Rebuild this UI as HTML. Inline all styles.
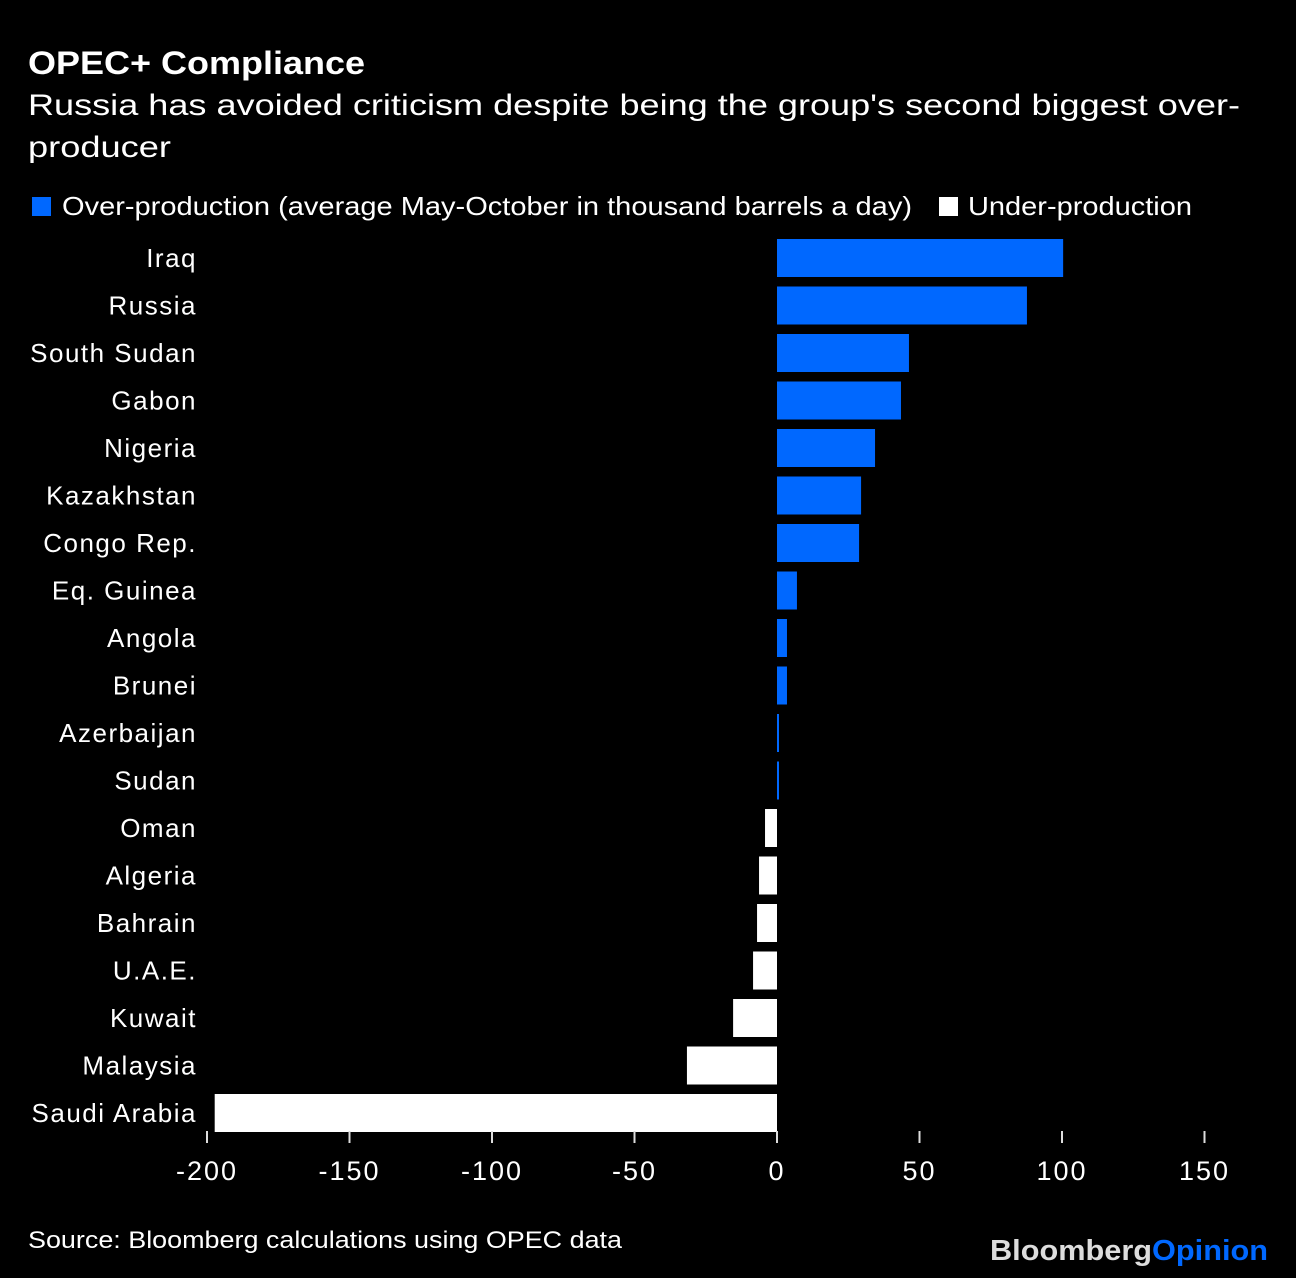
<!DOCTYPE html>
<html><head><meta charset="utf-8"><style>
body{margin:0;background:#000;width:1296px;height:1278px;overflow:hidden;font-family:"Liberation Sans",sans-serif;color:#fff}
</style></head><body>
<svg width="1296" height="1278" style="display:block">
<text x="28" y="74" font-size="32" font-weight="bold" fill="#fff" textLength="337" lengthAdjust="spacingAndGlyphs">OPEC+ Compliance</text>
<text x="28" y="115" font-size="30" fill="#fff" textLength="1212" lengthAdjust="spacingAndGlyphs">Russia has avoided criticism despite being the group's second biggest over-</text>
<text x="28" y="157" font-size="30" fill="#fff" textLength="143" lengthAdjust="spacingAndGlyphs">producer</text>
<g>
<rect x="32" y="197" width="19" height="19" fill="#0068ff"/>
<text x="62" y="215" font-size="26" fill="#fff" textLength="850" lengthAdjust="spacingAndGlyphs">Over-production (average May-October in thousand barrels a day)</text>
<rect x="939" y="197" width="19" height="19" fill="#fff"/>
<text x="968" y="215" font-size="26" fill="#fff" textLength="224" lengthAdjust="spacingAndGlyphs">Under-production</text>
</g>
<g id="plot"></g>
<text x="28" y="1248" font-size="24" fill="#fff" textLength="594" lengthAdjust="spacingAndGlyphs">Source: Bloomberg calculations using OPEC data</text>
<text x="990" y="1260" font-size="29" font-weight="bold" textLength="278" lengthAdjust="spacingAndGlyphs"><tspan fill="#ddd">Bloomberg</tspan><tspan fill="#0068ff">Opinion</tspan></text>
</svg>
<script>
const countries=["Iraq","Russia","South Sudan","Gabon","Nigeria","Kazakhstan","Congo Rep.","Eq. Guinea","Angola","Brunei","Azerbaijan","Sudan","Oman","Algeria","Bahrain","U.A.E.","Kuwait","Malaysia","Saudi Arabia"];
const values=[100.4,87.7,46.3,43.5,34.4,29.5,28.8,7,3.5,3.5,0.7,0.7,-4.2,-6.3,-7,-8.4,-15.4,-31.6,-197.3];
const ticks=[-200,-150,-100,-50,0,50,100,150];
const NS="http://www.w3.org/2000/svg";
const g=document.getElementById('plot');
const x=v=>777+v*2.85;
const yc=i=>258+i*47.5;
function mk(t,a){const e=document.createElementNS(NS,t);for(const k in a)e.setAttribute(k,a[k]);g.appendChild(e);return e;}
countries.forEach((c,i)=>{
  const v=values[i];
  const r=mk('rect',{x:Math.min(x(0),x(v)),y:yc(i)-19,width:Math.max(Math.abs(x(v)-x(0)),1.5),height:38,fill:v>=0?'#0068ff':'#fff'});
  
  
  const t=mk('text',{x:197,y:yc(i)+9,'font-size':26,'letter-spacing':1.5,'text-anchor':'end',fill:'#fff'});
  t.textContent=c;
  
  
});
ticks.forEach(v=>{
  const l=mk('line',{x1:x(v),x2:x(v),y1:1131,y2:1143,stroke:'#ddd','stroke-width':2});
  
  
  const t=mk('text',{x:x(v),y:1180,'font-size':27,'letter-spacing':2,'text-anchor':'middle',fill:'#fff'});
  t.textContent=v;
  
  
});
</script>
</body></html>
